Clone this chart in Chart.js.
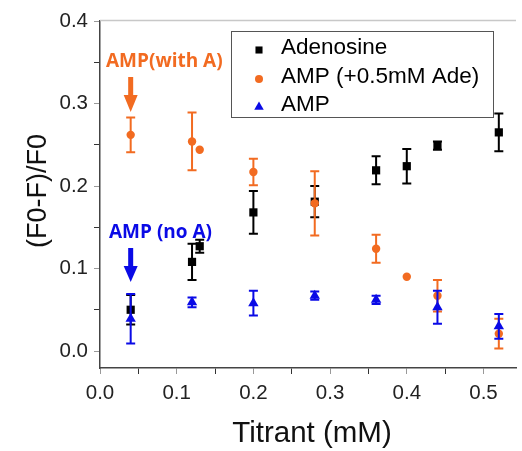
<!DOCTYPE html>
<html>
<head>
<meta charset="utf-8">
<script src="https://cdn.jsdelivr.net/npm/chart.js@4.4.1/dist/chart.umd.min.js"></script>
<style>
html,body{margin:0;padding:0;background:#fff;}
#wrap{width:522px;height:451px;position:relative;}
</style>
</head>
<body>
<div id="wrap"><canvas id="c" width="522" height="451"></canvas></div>
<script>
// ---- data ----
const seriesNames = ['Adenosine', 'AMP (+0.5mM Ade)', 'AMP'];

const xAdo = [0.04, 0.12, 0.13, 0.20, 0.28, 0.36, 0.40, 0.44, 0.52];
const yAdo = [0.050, 0.108, 0.127, 0.168, 0.181, 0.219, 0.224, 0.249, 0.265];
const eAdo = [0.018, 0.022, 0.008, 0.026, 0.019, 0.017, 0.021, 0.005, 0.023];

const xAmpAde = [0.04, 0.12, 0.13, 0.20, 0.28, 0.36, 0.40, 0.44, 0.52];
const yAmpAde = [0.262, 0.254, 0.244, 0.217, 0.179, 0.124, 0.090, 0.067, 0.021];
const eAmpAde = [0.021, 0.035, 0, 0.016, 0.039, 0.017, 0, 0.019, 0.018];

const xAmp = [0.04, 0.12, 0.20, 0.28, 0.36, 0.44, 0.52];
const yAmp = [0.039, 0.059, 0.058, 0.067, 0.062, 0.053, 0.030];
const eAmp = [0.030, 0.006, 0.015, 0.005, 0.005, 0.020, 0.015];

const xTickLabels = ['0.0', '0.1', '0.2', '0.3', '0.4', '0.5'];
const yTickLabels = ['0.0', '0.1', '0.2', '0.3', '0.4'];

const annotations = [
  {text: 'AMP(with A)', x: 0.04, color: '#F26B21'},
  {text: 'AMP (no A)', x: 0.04, color: '#0A0AE6'}
];

const xTitle = 'Titrant (mM)';
const yTitle = '(F0-F)/F0';

// ---- styles ----
const colors = ['#000000', '#F26B21', '#0A0AE6'];
const styles = ['rect', 'circle', 'triangle'];
const radii = [5.8, 4.2, 6];
const errs = [eAdo, eAmpAde, eAmp];

function pts(xs, ys){ return xs.map((x,i)=>({x:x, y:ys[i]})); }

const near = (v, step) => Math.abs(v/step - Math.round(v/step)) < 1e-6;

function minorTicks(maxIndex){
  const out = [];
  for (let k = 0; k <= maxIndex; k++) out.push({value: k / 20});
  return out;
}

const errorBars = {
  id: 'errorBars',
  afterDatasetDraw(chart, args){
    const i = args.index;
    const meta = args.meta;
    const ds = chart.data.datasets[i];
    const e = errs[i];
    const ys = chart.scales.y;
    const ctx = chart.ctx;
    ctx.save();
    ctx.strokeStyle = colors[i];
    ctx.lineWidth = 2;
    meta.data.forEach((el, k) => {
      if (!e[k]) return;
      const px = el.x;
      const v = ds.data[k].y;
      const t = ys.getPixelForValue(v + e[k]);
      const b = ys.getPixelForValue(v - e[k]);
      ctx.beginPath();
      ctx.moveTo(px, t); ctx.lineTo(px, b);
      ctx.moveTo(px - 4.5, t); ctx.lineTo(px + 4.5, t);
      ctx.moveTo(px - 4.5, b); ctx.lineTo(px + 4.5, b);
      ctx.stroke();
    });
    ctx.restore();
  }
};

const extras = {
  id: 'extras',
  afterDraw(chart){
    const ctx = chart.ctx;
    const a = chart.chartArea;
    const xs = chart.scales.x;
    ctx.save();
    // top frame line
    ctx.strokeStyle = '#c8c8c8';
    ctx.lineWidth = 1.5;
    ctx.beginPath();
    ctx.moveTo(a.left, a.top - 0.5); ctx.lineTo(a.right, a.top - 0.5);
    ctx.stroke();

    // axis titles
    ctx.fillStyle = '#111';
    ctx.font = '29.5px "Liberation Sans", Arial, sans-serif';
    ctx.textAlign = 'center';
    ctx.textBaseline = 'alphabetic';
    ctx.fillText(xTitle, (a.left + a.right) / 2 + 4, 442);
    ctx.save();
    ctx.translate(46, 191);
    ctx.rotate(-Math.PI / 2);
    ctx.font = '27px "Liberation Sans", Arial, sans-serif';
    ctx.fillText(yTitle, 0, 0);
    ctx.restore();

    // legend box
    const L = 231, T = 31, R = 493, B = 117;
    ctx.fillStyle = '#fff';
    ctx.fillRect(L, T, R - L, B - T);
    ctx.strokeStyle = '#555';
    ctx.lineWidth = 1;
    ctx.strokeRect(L + 0.5, T + 0.5, R - L, B - T);
    const rowY = [48, 77, 105];
    ctx.font = '22.5px "Liberation Sans", Arial, sans-serif';
    ctx.textAlign = 'left';
    ctx.textBaseline = 'middle';
    for (let i = 0; i < 3; i++) {
      ctx.fillStyle = colors[i];
      ctx.strokeStyle = colors[i];
      Chart.helpers.drawPoint(ctx, {pointStyle: styles[i], radius: i === 0 ? 5 : (i === 1 ? 4 : 5.5), rotation: 0, borderWidth: 0}, 259, rowY[i] + 2);
      ctx.fillStyle = '#000';
      ctx.fillText(seriesNames[i], 281, rowY[i]);
    }

    // annotations with arrows
    ctx.font = 'bold 19px "Open Sans", Lato, sans-serif';
    ctx.textAlign = 'left';
    ctx.textBaseline = 'alphabetic';
    const ann = [
      {base: 67, left: 106, top: 77, head: 95, tip: 112},
      {base: 238, left: 109, top: 248, head: 266, tip: 282}
    ];
    annotations.forEach((an, i) => {
      const g = ann[i];
      const px = xs.getPixelForValue(an.x);
      ctx.fillStyle = an.color;
      ctx.fillText(an.text, g.left, g.base);
      ctx.fillRect(px - 2.5, g.top, 5, g.head - g.top + 1);
      ctx.beginPath();
      ctx.moveTo(px - 7, g.head);
      ctx.lineTo(px + 7, g.head);
      ctx.lineTo(px, g.tip);
      ctx.closePath();
      ctx.fill();
    });
    ctx.restore();
  }
};

new Chart(document.getElementById('c'), {
  type: 'scatter',
  data: {
    datasets: [
      {label: seriesNames[0], data: pts(xAdo, yAdo), order: 3},
      {label: seriesNames[1], data: pts(xAmpAde, yAmpAde), order: 2},
      {label: seriesNames[2], data: pts(xAmp, yAmp), order: 1}
    ].map((d, i) => Object.assign(d, {
      pointStyle: styles[i],
      pointRadius: radii[i],
      pointHoverRadius: radii[i],
      backgroundColor: colors[i],
      borderColor: colors[i],
      borderWidth: 0,
      showLine: false
    }))
  },
  options: {
    responsive: false,
    devicePixelRatio: 1,
    animation: false,
    events: [],
    layout: {padding: {top: 21, right: 0, left: 0, bottom: 0}},
    plugins: {legend: {display: false}, tooltip: {enabled: false}},
    scales: {
      x: {
        type: 'linear',
        min: 0, max: 0.5424,
        afterFit(s){ s.height = 83; },
        afterBuildTicks(s){ s.ticks = minorTicks((xTickLabels.length - 1) * 2); },
        border: {color: '#444', width: 1.5},
        grid: {drawOnChartArea: false, drawTicks: true, tickLength: 6,
               tickColor: c => near(c.tick.value, 0.1) ? '#999' : '#333'},
        ticks: {
          autoSkip: false,
          maxRotation: 0,
          padding: 7,
          color: '#222',
          font: {family: '"Liberation Sans", Arial, sans-serif', size: 20.5},
          callback: v => near(v, 0.1) ? xTickLabels[Math.round(v * 10)] : ''
        }
      },
      y: {
        type: 'linear',
        min: -0.0206, max: 0.4,
        afterFit(s){ s.width = 100; },
        afterBuildTicks(s){ s.ticks = minorTicks((yTickLabels.length - 1) * 2); },
        border: {color: '#444', width: 1.5},
        grid: {drawOnChartArea: false, drawTicks: true, tickLength: 6,
               tickColor: c => near(c.tick.value, 0.1) ? '#999' : '#333'},
        ticks: {
          autoSkip: false,
          padding: 6,
          color: '#222',
          font: {family: '"Liberation Sans", Arial, sans-serif', size: 20.5},
          callback: v => near(v, 0.1) ? yTickLabels[Math.round(v * 10)] : ''
        }
      }
    }
  },
  plugins: [errorBars, extras]
});
</script>
</body>
</html>
